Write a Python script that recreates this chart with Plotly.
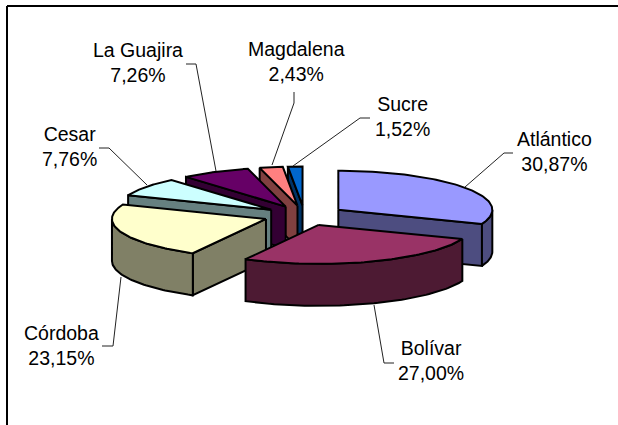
import numpy as np
import plotly.graph_objects as go

categories = ["Atlántico", "Bolívar", "Córdoba", "Cesar", "La Guajira", "Magdalena", "Sucre"]
shares = [30.87, 27.00, 23.15, 7.76, 7.26, 2.43, 1.52]
top_colors = ["#9999FF", "#993366", "#FFFFCC", "#CCFFFF", "#660066", "#FF8080", "#0066CC"]
side_colors = ["#4D4D80", "#4D1A33", "#808066", "#668080", "#330033", "#804040", "#003366"]
label_pos = [(554.5, 151), (431, 360), (61, 345), (69, 146), (137.5, 62), (296, 61), (402, 116)]
leaders = [
    [(513, 153), (504, 153), (465, 187)],
    [(394, 363), (384, 363), (374, 305)],
    [(102, 346), (113, 346), (121, 277)],
    [(99, 148), (109, 148), (147, 185)],
    [(186, 64), (196, 64), (216, 171)],
    [(294, 92), (294, 103), (272, 165)],
    [(370, 118), (360, 118), (293, 166)],
]

W, H = 618, 425
CX, CY, RX, RY = 304.5, 215.5, 154, 39
EX, EY, DEPTH = 41, 10, 42
LINE = "#000000"

total = sum(shares)
ends = np.cumsum(shares) / total * 2 * np.pi
starts = np.concatenate([[0], ends[:-1]])


def rim(ax, ay, a, dy=0):
    return ax + RX * np.sin(a), ay - RY * np.cos(a) + dy


fig = go.Figure()


def poly(xs, ys, fill, width=2.0):
    fig.add_trace(go.Scatter(
        x=list(xs), y=list(ys), mode="lines", fill="toself", fillcolor=fill,
        line=dict(color=LINE, width=width, shape="linear"),
        hoverinfo="skip", showlegend=False))


# back-to-front painter's order
order = [6, 5, 4, 3, 2, 0, 1]
for i in order:
    s, e = starts[i], ends[i]
    mid = (s + e) / 2
    ax = CX + EX * np.sin(mid)
    ay = CY - EY * np.cos(mid)
    side = side_colors[i]

    # radial wall on the starting edge, visible when it faces the viewer
    if -np.cos(s - np.pi / 2) > 0.001:
        x1, y1 = rim(ax, ay, s)
        poly([ax, x1, x1, ax, ax], [ay, y1, y1 + DEPTH, ay + DEPTH, ay], side)
    # radial wall on the closing edge
    if -np.cos(e + np.pi / 2) > 0.001:
        x1, y1 = rim(ax, ay, e)
        poly([ax, x1, x1, ax, ax], [ay, y1, y1 + DEPTH, ay + DEPTH, ay], side)
    # outer curved wall, the part of the rim that faces front
    lo, hi = max(s, np.pi / 2), min(e, 3 * np.pi / 2)
    if hi > lo:
        t = np.linspace(lo, hi, 60)
        xa, ya = rim(ax, ay, t)
        poly(np.concatenate([xa, xa[::-1], xa[:1]]),
             np.concatenate([ya, ya[::-1] + DEPTH, ya[:1]]), side)
    # top face
    t = np.linspace(s, e, 80)
    xa, ya = rim(ax, ay, t)
    poly(np.concatenate([[ax], xa, [ax]]), np.concatenate([[ay], ya, [ay]]), top_colors[i])

for pts in leaders:
    fig.add_trace(go.Scatter(
        x=[p[0] for p in pts], y=[p[1] for p in pts], mode="lines",
        line=dict(color="#222222", width=1), hoverinfo="skip", showlegend=False))

for name, val, (lx, ly) in zip(categories, shares, label_pos):
    fig.add_annotation(
        x=lx, y=ly, xref="x", yref="y", showarrow=False, align="center",
        text=f"{name}<br>{val:.2f}%".replace(".", ","),
        font=dict(family="Liberation Sans, Arial, sans-serif", size=19.5, color="#000000"))

# chart frame: only the top and left edges fall inside the picture
fig.add_shape(type="line", x0=7, x1=W, y0=6, y1=6, line=dict(color="#000000", width=2))
fig.add_shape(type="line", x0=7, x1=7, y0=6, y1=H, line=dict(color="#000000", width=2))

fig.update_layout(
    width=W, height=H, margin=dict(l=0, r=0, t=0, b=0),
    paper_bgcolor="#FFFFFF", plot_bgcolor="#FFFFFF", showlegend=False,
    xaxis=dict(range=[0, W], visible=False, fixedrange=True),
    yaxis=dict(range=[H, 0], visible=False, fixedrange=True),
)
fig.write_html("out.html", config={"displayModeBar": False},
               post_script="document.body.style.margin='0';document.documentElement.style.overflow='hidden';")
